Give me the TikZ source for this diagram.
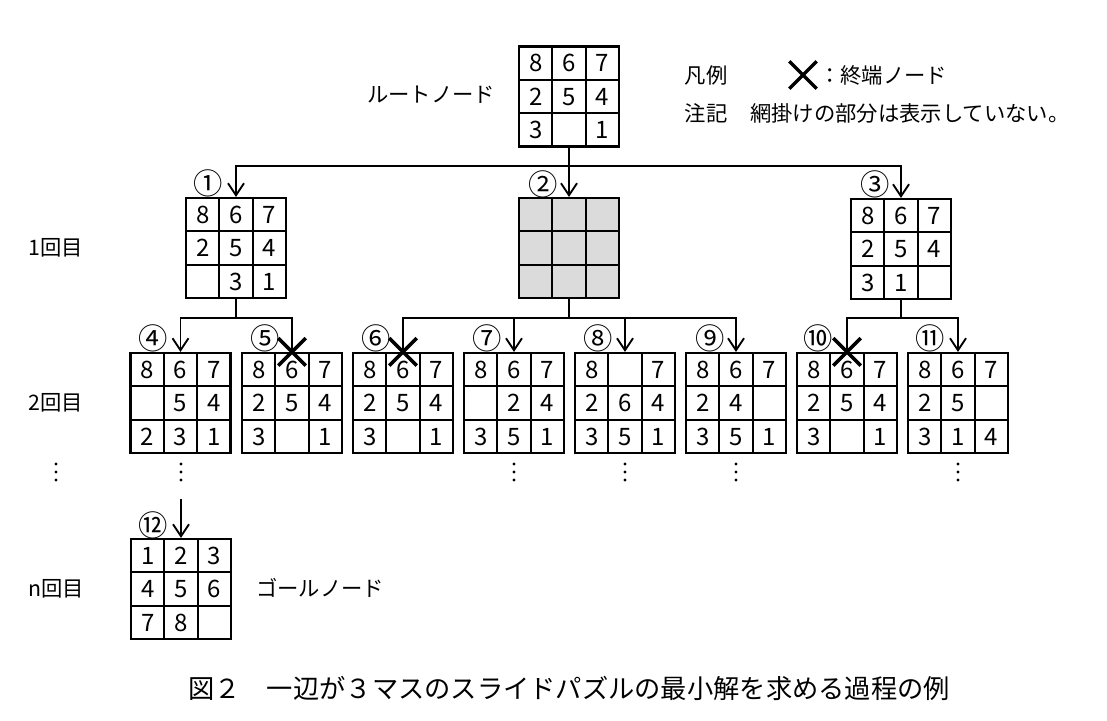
\documentclass[tikz,border=0pt]{standalone}
\usepackage{fontspec}
\setmainfont{Noto Sans CJK JP}
\usetikzlibrary{matrix,arrows.meta,shapes.misc}
\newcommand\pzdigit{\fontsize{18pt}{20pt}\selectfont}
\newcommand\pzlab{\fontsize{16pt}{18pt}\selectfont}
\newcommand\pzcirc{\fontsize{22pt}{24pt}\selectfont}
\newcommand\pzcap{\fontsize{19.7pt}{22pt}\selectfont}
\tikzset{
  pz/.style={matrix of nodes, nodes in empty cells, row sep=-1.6pt, column sep=-1.6pt,
    inner sep=0pt, outer sep=0pt,
    nodes={draw, line width=1.6pt, minimum size=25pt, inner sep=0pt, outer sep=0pt,
      anchor=center, text height=13pt, text depth=0pt, font=\pzdigit}},
  shaded/.style={nodes={fill=black!14}},
  link/.style={line width=1.4pt},
  arr/.style={link, -{Straight Barb[length=9pt,width=12pt,line width=1.4pt]}},
  xmark/.style={draw, cross out, line width=2.6pt, minimum size=18pt, inner sep=0pt},
  lab/.style={font=\pzlab, inner sep=0pt},
  num/.style={font=\pzcirc, inner sep=0pt},
}
\begin{document}
\begin{tikzpicture}[x=0.75pt,y=-0.75pt]
\useasboundingbox (0,0) rectangle (1107,721);
\fill[white] (0,0) rectangle (1107,721);

% root
\matrix (r) [pz] at (569,96.5) {8 & 6 & 7\\ 2 & 5 & 4\\ 3 & & 1\\};
\node[lab] (rl) at (431,95) {ルートノード};

% legend
\node[lab] (lg1) at (706,75) {凡例};
\node[xmark] (lgx) at (803,75) {};
\node[lab, anchor=west] (lg2) at (819,75) {：終端ノード};
\node[lab] (nt1) at (706,113) {注記};
\node[lab, anchor=west] (nt2) at (750,113) {網掛けの部分は表示していない。};

% level 1
\matrix (n1) [pz] at (236,248) {8 & 6 & 7\\ 2 & 5 & 4\\ & 3 & 1\\};
\matrix (n2) [pz, shaded] at (569,248) { & & \\ & & \\ & & \\};
\matrix (n3) [pz] at (901,249) {8 & 6 & 7\\ 2 & 5 & 4\\ 3 & 1 & \\};
\node[num] (c1) at (208,183) {①};
\node[num] (c2) at (543,184) {②};
\node[num] (c3) at (875,184) {③};

\coordinate (b0) at (569,166);
\draw[link] (r.south) -- (b0);
\draw[arr] (b0) -| (n1.north);
\draw[arr] (b0) -- (n2.north);
\draw[arr] (b0) -| (n3.north);

% level 2
\matrix (n4) [pz] at (180.5,403) {8 & 6 & 7\\ & 5 & 4\\ 2 & 3 & 1\\};
\matrix (n5) [pz] at (292,403) {8 & 6 & 7\\ 2 & 5 & 4\\ 3 & & 1\\};
\matrix (n6) [pz] at (403,403) {8 & 6 & 7\\ 2 & 5 & 4\\ 3 & & 1\\};
\matrix (n7) [pz] at (514,403) {8 & 6 & 7\\ & 2 & 4\\ 3 & 5 & 1\\};
\matrix (n8) [pz] at (625,403) {8 & & 7\\ 2 & 6 & 4\\ 3 & 5 & 1\\};
\matrix (n9) [pz] at (736,403) {8 & 6 & 7\\ 2 & 4 & \\ 3 & 5 & 1\\};
\matrix (n10) [pz] at (847,403) {8 & 6 & 7\\ 2 & 5 & 4\\ 3 & & 1\\};
\matrix (n11) [pz] at (958,403) {8 & 6 & 7\\ 2 & 5 & \\ 3 & 1 & 4\\};

\node[num] (c4) at (153,338) {④};
\node[num] (c5) at (265,338) {⑤};
\node[num] (c6) at (376,338) {⑥};
\node[num] (c7) at (487,338) {⑦};
\node[num] (c8) at (598,338) {⑧};
\node[num] (c9) at (710,338) {⑨};
\node[num] (c10) at (818,338) {⑩};
\node[num] (c11) at (930,338) {⑪};

\coordinate (b1) at (236,318);
\draw[link] (n1.south) -- (b1);
\draw[arr] (b1) -| (n4.north);
\draw[link] (b1) -| (n5.north);

\coordinate (b2) at (569,318);
\draw[link] (n2.south) -- (b2);
\draw[link] (b2) -| (n6.north);
\draw[arr] (b2) -| (n7.north);
\draw[arr] (b2) -| (n8.north);
\draw[arr] (b2) -| (n9.north);

\coordinate (b3) at (901,318);
\draw[link] (n3.south) -- (b3);
\draw[link] (b3) -| (n10.north);
\draw[arr] (b3) -| (n11.north);

\node[xmark] (x5) at (n5.north) {};
\node[xmark] (x6) at (n6.north) {};
\node[xmark] (x10) at (n10.north) {};

% row labels
\node[lab] (t1) at (56,248) {1回目};
\node[lab] (t2) at (56,403) {2回目};
\node[lab] (tn) at (56,589) {n回目};

% ellipses
\foreach \x in {56,181,514,625,736,958}
  \foreach \y in {464,472,480}
    \fill (\x,\y) circle (1.3pt);

% goal
\matrix (n12) [pz] at (181,589) {1 & 2 & 3\\ 4 & 5 & 6\\ 7 & 8 & \\};
\node[num] (c12) at (153,525) {⑫};
\coordinate (d4) at (181,499);
\draw[arr] (d4) -- (n12.north);
\node[lab] (gl) at (320,588) {ゴールノード};

% caption
\node[font=\pzcap, inner sep=0pt] (cap) at (569,688) {図２　一辺が３マスのスライドパズルの最小解を求める過程の例};
\end{tikzpicture}
\end{document}
